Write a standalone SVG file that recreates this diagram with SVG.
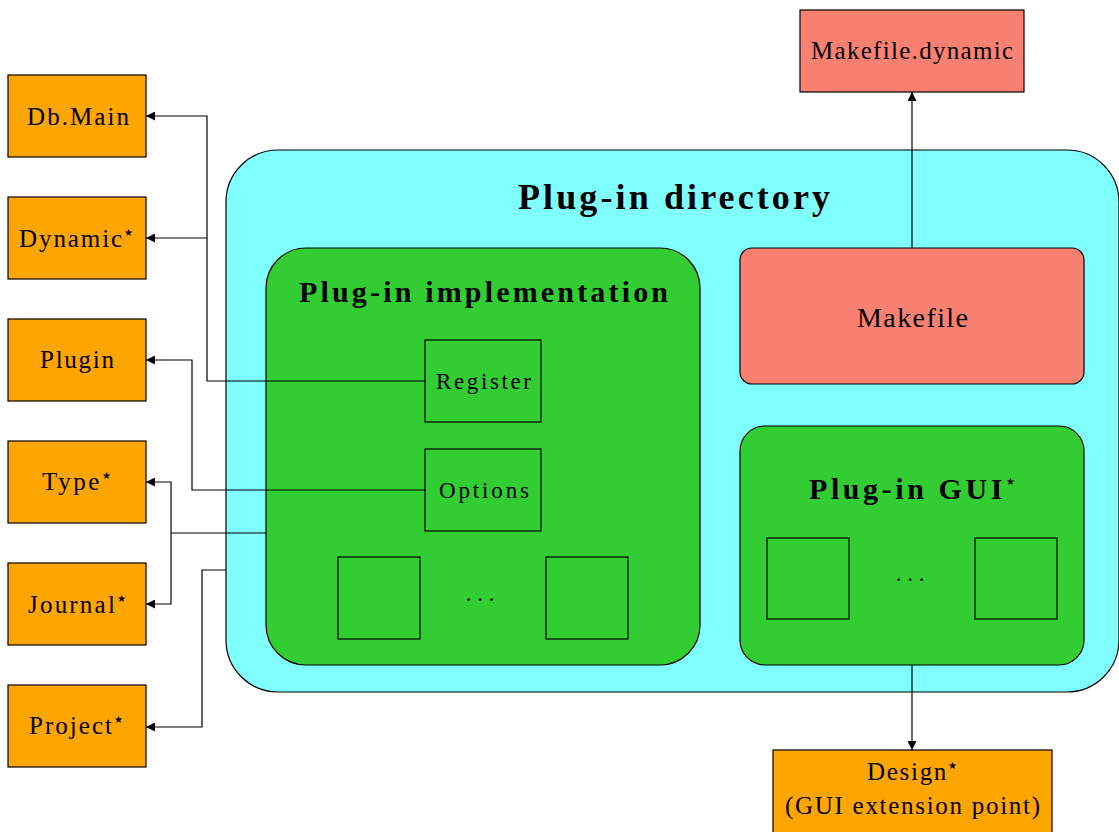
<svg xmlns="http://www.w3.org/2000/svg" width="1119" height="832" viewBox="0 0 1119 832">
<style>
text{font-family:"Liberation Serif","DejaVu Serif",serif;fill:#000;text-anchor:middle}
.orange{fill:#FFA500;stroke:#000;stroke-width:1.2}
.cyan{fill:#80FFFF;stroke:#000;stroke-width:1.2}
.green{fill:#32CD32;stroke:#000;stroke-width:1.2}
.salmon{fill:#FA8072;stroke:#000;stroke-width:1.2}
.box{fill:none;stroke:#000;stroke-width:1.2}
.lbl{font-size:25px}
.sm{font-size:23px}
.title{font-size:36px;font-weight:bold}
.sub{font-size:30px;font-weight:bold}
.star{font-family:"DejaVu Sans",sans-serif;font-size:10px;font-weight:normal}
.conn{fill:none;stroke:#000;stroke-width:1.2}
</style>
<defs>
<marker id="arr" viewBox="0 0 10 10" refX="10" refY="5" markerWidth="9" markerHeight="9" markerUnits="userSpaceOnUse" orient="auto">
<path d="M0,0 L10,5 L0,10 Z" fill="#000"/>
</marker>
</defs>

<g id="plugin-directory">
<rect class="cyan" x="226" y="150" width="893" height="542" rx="52"/>
<text class="title" x="674" y="209" textLength="312" lengthAdjust="spacing">Plug-in directory</text>
</g>

<g id="plugin-implementation">
<rect class="green" x="266" y="248" width="434" height="417" rx="40"/>
<text class="sub" x="483.5" y="302" textLength="369" lengthAdjust="spacing">Plug-in implementation</text>
</g>
<g id="register">
<rect class="box" x="425" y="340" width="116" height="82"/>
<text class="sm" x="483.5" y="389" textLength="95" lengthAdjust="spacing">Register</text>
</g>
<g id="options">
<rect class="box" x="425" y="449" width="116" height="82"/>
<text class="sm" x="484" y="498" textLength="90" lengthAdjust="spacing">Options</text>
</g>
<g id="impl-box1"><rect class="box" x="338" y="557" width="82" height="82"/></g>
<g id="impl-dots"><text class="sm" x="480" y="601">. . .</text></g>
<g id="impl-box2"><rect class="box" x="546" y="557" width="82" height="82"/></g>

<g id="makefile">
<rect class="salmon" x="740" y="248" width="344" height="136" rx="12"/>
<text style="font-size:28px" x="912.5" y="327" textLength="111" lengthAdjust="spacing">Makefile</text>
</g>

<g id="plugin-gui">
<rect class="green" x="740" y="426" width="344" height="239" rx="25"/>
<text class="sub" x="912" y="499" textLength="206" lengthAdjust="spacing">Plug-in GUI<tspan class="star" dy="-14">★</tspan></text>
</g>
<g id="gui-box1"><rect class="box" x="767" y="538" width="82" height="81"/></g>
<g id="gui-dots"><text class="sm" x="910" y="581">. . .</text></g>
<g id="gui-box2"><rect class="box" x="975" y="538" width="82" height="81"/></g>

<g id="makefile-dynamic">
<rect class="salmon" x="800" y="10" width="224" height="82"/>
<text class="lbl" x="912" y="59" textLength="202" lengthAdjust="spacing">Makefile.dynamic</text>
</g>

<g id="design">
<rect class="orange" x="773" y="750" width="279" height="90"/>
<text class="lbl" x="912" y="780" textLength="90" lengthAdjust="spacing">Design<tspan class="star" dy="-11">★</tspan></text>
<text class="lbl" x="912.5" y="814" textLength="255" lengthAdjust="spacing">(GUI extension point)</text>
</g>

<g id="db-main"><rect class="orange" x="8" y="75" width="138" height="82"/><text class="lbl" x="78" y="125" textLength="102" lengthAdjust="spacing">Db.Main</text></g>
<g id="dynamic"><rect class="orange" x="8" y="197" width="138" height="82"/><text class="lbl" x="76" y="247" textLength="114" lengthAdjust="spacing">Dynamic<tspan class="star" dy="-11">★</tspan></text></g>
<g id="plugin"><rect class="orange" x="8" y="319" width="138" height="82"/><text class="lbl" x="77" y="368" textLength="74" lengthAdjust="spacing">Plugin</text></g>
<g id="type"><rect class="orange" x="8" y="441" width="138" height="82"/><text class="lbl" x="76.5" y="490" textLength="69" lengthAdjust="spacing">Type<tspan class="star" dy="-11">★</tspan></text></g>
<g id="journal"><rect class="orange" x="8" y="563" width="138" height="82"/><text class="lbl" x="77" y="613" textLength="98" lengthAdjust="spacing">Journal<tspan class="star" dy="-11">★</tspan></text></g>
<g id="project"><rect class="orange" x="8" y="685" width="138" height="82"/><text class="lbl" x="76" y="734" textLength="94" lengthAdjust="spacing">Project<tspan class="star" dy="-11">★</tspan></text></g>

<g id="connectors">
<path class="conn" d="M425,381 H207 V116 H146" marker-end="url(#arr)"/>
<path class="conn" d="M207,238 H146" marker-end="url(#arr)"/>
<path class="conn" d="M425,490 H192 V360 H146" marker-end="url(#arr)"/>
<path class="conn" d="M266,533 H171"/>
<path class="conn" d="M171,533 V482 H146" marker-end="url(#arr)"/>
<path class="conn" d="M171,533 V604 H146" marker-end="url(#arr)"/>
<path class="conn" d="M226,570 H202 V727 H146" marker-end="url(#arr)"/>
<path class="conn" d="M912,248 V92" marker-end="url(#arr)"/>
<path class="conn" d="M912,665 V750" marker-end="url(#arr)"/>
</g>
</svg>
